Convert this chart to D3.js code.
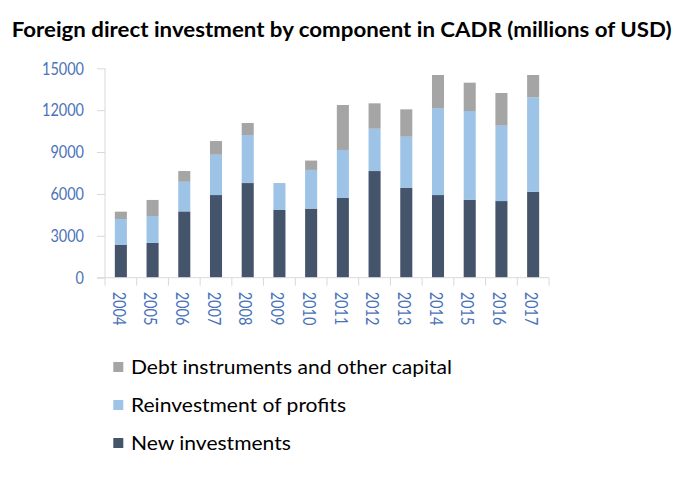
<!DOCTYPE html>
<html>
<head>
<meta charset="utf-8">
<script src="https://cdn.jsdelivr.net/npm/d3@7"></script>
<style>
  html, body { margin: 0; padding: 0; background: #fff; }
  svg { display: block; }
</style>
</head>
<body>
<svg id="chart" width="684" height="490"></svg>
<script>
const years = ["2004","2005","2006","2007","2008","2009","2010","2011","2012","2013","2014","2015","2016","2017"];
const newInvestments = [2370, 2490, 4750, 5920, 6780, 4850, 4950, 5710, 7640, 6450, 5920, 5590, 5490, 6160];
const reinvestment   = [1830, 1930, 2120, 2890, 3440, 1930, 2770, 3440, 3030, 3650, 6230, 6350, 5400, 6760];
const debt           = [ 530, 1150,  770,  980,  860,    0,  670, 3220, 1820, 1960, 2370, 2030, 2340, 1600];
const yTicks = [0, 3000, 6000, 9000, 12000, 15000];
const seriesNames = ["New investments", "Reinvestment of profits", "Debt instruments and other capital"];
const seriesColors = ["#44546A", "#9DC3E6", "#A5A5A5"];
const titleText = "Foreign direct investment by component in CADR (millions of USD)";

const svg = d3.select("#chart");
const FONT = "Lato, 'Open Sans', sans-serif";
const LABEL_SIZE = 18;

function fitText(sel, targetW, startSize) {
  sel.attr("font-size", startSize);
  const w = sel.node().getComputedTextLength();
  if (w > 0) sel.attr("font-size", startSize * targetW / w);
}
function squeeze(sel, ratio) {
  sel.each(function() {
    const w = this.getComputedTextLength();
    d3.select(this).attr("textLength", w * ratio).attr("lengthAdjust", "spacingAndGlyphs");
  });
}

// Title
const title = svg.append("text")
  .attr("x", 11.7).attr("y", 36.7)
  .attr("font-family", FONT).attr("font-weight", "bold")
  .attr("fill", "#000").text(titleText);
title.attr("font-size", 21.5);
squeeze(title, 660 / title.node().getComputedTextLength());

const x = d3.scaleBand().domain(years).range([105, 549]).paddingInner(0.62).paddingOuter(0.31);
const y = d3.scaleLinear().domain([0, 15000]).range([277.7, 68.3]);

const rows = years.map((yr, i) => ({year: yr, "New investments": newInvestments[i], "Reinvestment of profits": reinvestment[i], "Debt instruments and other capital": debt[i]}));
const stacked = d3.stack().keys(seriesNames)(rows);

const axisColor = "#D9D9D9";

// Y axis
const yAxis = svg.append("g").attr("transform", "translate(105,0)")
  .call(d3.axisLeft(y).tickValues(yTicks).tickSize(8).tickPadding(13).tickFormat(d3.format("d")));
yAxis.select(".domain").attr("stroke", axisColor).attr("d", `M-0,${y(15000)}V${y(0)}`);
yAxis.selectAll(".tick line").attr("stroke", axisColor);
yAxis.selectAll(".tick text").attr("fill", "#4A72B8").attr("font-family", FONT).attr("font-size", LABEL_SIZE);
const ref = yAxis.selectAll(".tick text").filter(d => d === 15000).node().getComputedTextLength();
const labelRatio = 42 / ref;
squeeze(yAxis.selectAll(".tick text"), labelRatio);

// Bars
svg.append("g").selectAll("g").data(stacked).join("g")
  .attr("fill", (d, i) => seriesColors[i])
  .selectAll("rect").data(d => d).join("rect")
  .attr("x", d => x(d.data.year))
  .attr("width", x.bandwidth())
  .attr("y", d => y(d[1]))
  .attr("height", d => Math.max(0, y(d[0]) - y(d[1])));

// X axis
const xg = svg.append("g").attr("transform", `translate(0,${y(0)})`);
xg.append("line").attr("x1", 97).attr("x2", 549).attr("y1", 0).attr("y2", 0).attr("stroke", axisColor);
const bounds = years.map(yr => x(yr) - x.step() * x.paddingInner() / 2).concat([549]);
xg.selectAll("line.tk").data(bounds).join("line").attr("class", "tk")
  .attr("x1", d => d).attr("x2", d => d).attr("y1", 0).attr("y2", 8).attr("stroke", axisColor);
const xl = xg.selectAll("text").data(years).join("text")
  .attr("transform", d => `translate(${x(d) + x.bandwidth() / 2 - 2},14) rotate(90)`)
  .attr("dy", "0.35em")
  .attr("font-family", FONT).attr("font-size", LABEL_SIZE).attr("fill", "#4A72B8")
  .text(d => d);
squeeze(xl, labelRatio);

// Legend
const legendOrder = [2, 1, 0];
const legendY = [367, 405, 443];
const lg = svg.append("g");
legendOrder.forEach((si, k) => {
  lg.append("rect").attr("x", 113.3).attr("y", legendY[k] - 5).attr("width", 10).attr("height", 10).attr("fill", seriesColors[si]);
  lg.append("text").attr("class", "lgtext").attr("x", 131).attr("y", legendY[k]).attr("dy", "0.35em")
    .attr("font-family", FONT).attr("fill", "#000").text(seriesNames[si]);
});
{
  lg.selectAll(".lgtext").attr("font-size", 19);
  const t = lg.selectAll(".lgtext").filter(function() { return this.textContent.startsWith("Debt"); });
  const w = t.node().getComputedTextLength();
  squeeze(lg.selectAll(".lgtext"), 321 / w);
}
</script>
</body>
</html>
